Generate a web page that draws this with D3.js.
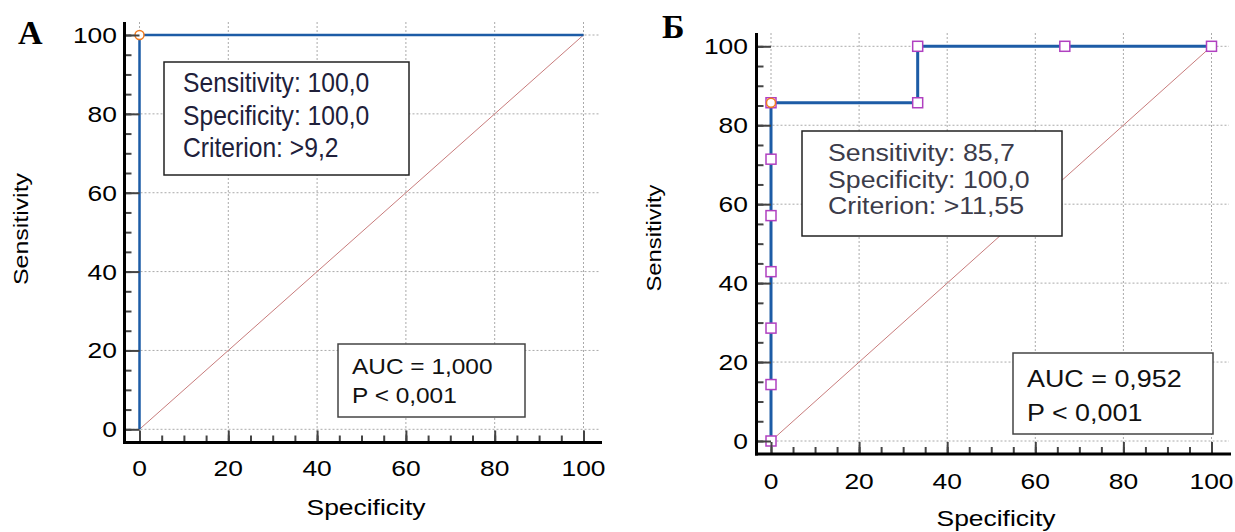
<!DOCTYPE html>
<html>
<head>
<meta charset="utf-8">
<script src="https://cdn.jsdelivr.net/npm/d3@7"></script>
<style>
  body { margin: 0; background: #fff; }
  svg { display: block; font-family: "Liberation Sans", Arial, sans-serif; }
</style>
</head>
<body>
<svg id="chart" width="1235" height="532"></svg>
<script>
// Axis ticks shared by both panels
const majorTicks = [0, 20, 40, 60, 80, 100];
const minorTicks = [0, 5, 10, 15, 20, 25, 30, 35, 40, 45, 50, 55, 60, 65, 70, 75, 80, 85, 90, 95, 100];
const diagonal = [0, 100];

// Panel A
const specA = [0, 0, 100];
const sensA = [0, 100, 100];
const optA = [0, 100];
const infoA = ["Sensitivity: 100,0", "Specificity: 100,0", "Criterion: >9,2"];
const aucA = ["AUC = 1,000", "P < 0,001"];

// Panel Б
const specB = [0, 0, 0, 0, 0, 0, 0, 33.3, 33.3, 66.7, 100];
const sensB = [0, 14.3, 28.6, 42.9, 57.1, 71.4, 85.7, 85.7, 100, 100, 100];
const optB = [0, 85.7];
const infoB = ["Sensitivity: 85,7", "Specificity: 100,0", "Criterion: >11,55"];
const aucB = ["AUC = 0,952", "P < 0,001"];

const svg = d3.select("#chart");

// stretch a text horizontally (the source picture is a bit wider than tall)
function stretch(sel, sx) {
  sel.each(function() {
    const w = this.getComputedTextLength();
    d3.select(this).attr("textLength", w * sx).attr("lengthAdjust", "spacingAndGlyphs");
  });
  return sel;
}

function drawPanel(p) {
  const x = d3.scaleLinear().domain([0, 100]).range([p.x0, p.x1]);
  const y = d3.scaleLinear().domain([0, 100]).range([p.y0, p.y1]);
  const g = svg.append("g");

  // grid
  g.selectAll(".vgrid").data(majorTicks).join("line")
    .attr("x1", d => x(d)).attr("x2", d => x(d))
    .attr("y1", p.top).attr("y2", p.axisY)
    .attr("stroke", "#aaa").attr("stroke-width", 1).attr("stroke-dasharray", "2,2");
  g.selectAll(".hgrid").data(majorTicks).join("line")
    .attr("x1", p.axisX).attr("x2", p.right)
    .attr("y1", d => y(d)).attr("y2", d => y(d))
    .attr("stroke", "#aaa").attr("stroke-width", 1).attr("stroke-dasharray", "2,2");

  // reference diagonal
  g.append("line")
    .attr("x1", x(diagonal[0])).attr("y1", y(diagonal[0]))
    .attr("x2", x(diagonal[1])).attr("y2", y(diagonal[1]))
    .attr("stroke", "#c87c7c").attr("stroke-width", 1);

  // ROC curve
  const pts = p.spec.map((s, i) => [s, p.sens[i]]);
  g.append("path")
    .attr("d", d3.line().x(d => x(d[0])).y(d => y(d[1]))(pts))
    .attr("fill", "none").attr("stroke", "#1d5ca6").attr("stroke-width", p.lineW);

  if (p.markers) {
    g.selectAll(".sq").data(pts).join("rect")
      .attr("x", d => x(d[0]) - 5).attr("y", d => y(d[1]) - 5)
      .attr("width", 10).attr("height", 10)
      .attr("fill", "#fff").attr("stroke", "#b040c0").attr("stroke-width", 1.5);
  }
  g.append("circle")
    .attr("cx", x(p.opt[0])).attr("cy", y(p.opt[1])).attr("r", 4.5)
    .attr("fill", "#fff").attr("stroke", "#f07a20").attr("stroke-width", 1.5);

  // info box
  const ib = p.infoBox;
  g.append("rect").attr("x", ib.x).attr("y", ib.y).attr("width", ib.w).attr("height", ib.h)
    .attr("fill", "#fff").attr("stroke", "#222").attr("stroke-width", 1.5);
  stretch(g.selectAll(".info").data(p.info).join("text")
    .attr("x", ib.tx).attr("y", (d, i) => ib.ty + i * ib.lh)
    .attr("font-size", ib.fs).attr("fill", ib.color).text(d => d), ib.sx);

  // AUC box
  const ab = p.aucBox;
  g.append("rect").attr("x", ab.x).attr("y", ab.y).attr("width", ab.w).attr("height", ab.h)
    .attr("fill", "#fff").attr("stroke", "#444").attr("stroke-width", 1.5);
  stretch(g.selectAll(".auc").data(p.auc).join("text")
    .attr("x", ab.tx).attr("y", (d, i) => ab.ty + i * ab.lh)
    .attr("font-size", ab.fs).attr("fill", "#111").text(d => d), ab.sx);

  // axes: ticks point inward, labels drawn separately so they can be widened
  const xMinor = g.append("g").attr("transform", `translate(0,${p.axisY})`)
    .call(d3.axisBottom(x).tickValues(minorTicks).tickSize(-7).tickFormat(""));
  const xMajor = g.append("g").attr("transform", `translate(0,${p.axisY})`)
    .call(d3.axisBottom(x).tickValues(majorTicks).tickSize(-12).tickFormat(""));
  const yMinor = g.append("g").attr("transform", `translate(${p.axisX},0)`)
    .call(d3.axisLeft(y).tickValues(minorTicks).tickSize(-7).tickFormat(""));
  const yMajor = g.append("g").attr("transform", `translate(${p.axisX},0)`)
    .call(d3.axisLeft(y).tickValues(majorTicks).tickSize(-(x(0) - p.axisX)).tickFormat(""));
  [xMinor, xMajor, yMinor, yMajor].forEach(a => {
    a.select(".domain").remove();
    a.selectAll(".tick line").attr("stroke", "#444").attr("stroke-width", 2);
  });
  g.append("line").attr("x1", p.axisX).attr("x2", p.axisX)
    .attr("y1", p.top).attr("y2", p.axisY + 1.5).attr("stroke", "#000").attr("stroke-width", 3);
  g.append("line").attr("x1", p.axisX - 1.5).attr("x2", p.right + 2)
    .attr("y1", p.axisY).attr("y2", p.axisY).attr("stroke", "#000").attr("stroke-width", 3);

  stretch(g.selectAll(".xl").data(majorTicks).join("text")
    .attr("x", d => x(d)).attr("y", p.xLabelY).attr("text-anchor", "middle")
    .attr("font-size", 22).attr("fill", "#000").text(d => d), 1.2);
  stretch(g.selectAll(".yl").data(majorTicks).join("text")
    .attr("x", p.yLabelX).attr("y", d => y(d) + 8).attr("text-anchor", "end")
    .attr("font-size", 22).attr("fill", "#000").text(d => d), 1.2);

  // axis titles
  g.append("text").attr("x", p.xTitle[0]).attr("y", p.xTitle[1]).attr("text-anchor", "middle")
    .attr("font-size", 22).attr("textLength", 119).attr("lengthAdjust", "spacingAndGlyphs")
    .text("Specificity");
  g.append("text").attr("transform", `translate(${p.yTitle[0]},${p.yTitle[1]}) rotate(-90)`)
    .attr("text-anchor", "middle").attr("font-size", 21)
    .attr("textLength", p.yTitleLen).attr("lengthAdjust", "spacingAndGlyphs")
    .text("Sensitivity");

  // panel letter
  g.append("text").attr("x", p.letterPos[0]).attr("y", p.letterPos[1])
    .attr("font-family", "'Liberation Serif', 'Times New Roman', serif")
    .attr("font-weight", "bold").attr("font-size", 34).text(p.letter);
}

drawPanel({
  spec: specA, sens: sensA, opt: optA, info: infoA, auc: aucA, markers: false,
  x0: 139.5, x1: 583.5, y0: 429.3, y1: 35,
  axisX: 124.5, axisY: 442.5, top: 22, right: 600, lineW: 2.5,
  infoBox: { x: 164, y: 62, w: 245, h: 113, tx: 183, ty: 92, lh: 32.5, fs: 28, sx: 0.88, color: "#20203a" },
  aucBox: { x: 338, y: 344, w: 187, h: 73, tx: 352, ty: 374, lh: 29, fs: 22, sx: 1.11 },
  xLabelY: 476, yLabelX: 117,
  xTitle: [366, 515], yTitle: [28, 229], yTitleLen: 112,
  letter: "A", letterPos: [18, 44]
});

drawPanel({
  spec: specB, sens: sensB, opt: optB, info: infoB, auc: aucB, markers: true,
  x0: 771, x1: 1211.5, y0: 441, y1: 46.3,
  axisX: 756.5, axisY: 454, top: 33, right: 1229, lineW: 3,
  infoBox: { x: 802, y: 131, w: 260, h: 105, tx: 828, ty: 161, lh: 26.5, fs: 23, sx: 1.16, color: "#3c3c4a" },
  aucBox: { x: 1013, y: 353, w: 200, h: 81, tx: 1027, ty: 387, lh: 33.5, fs: 24, sx: 1.12 },
  xLabelY: 489, yLabelX: 748,
  xTitle: [996, 526], yTitle: [661, 238], yTitleLen: 107,
  letter: "Б", letterPos: [662, 38]
});
</script>
</body>
</html>
